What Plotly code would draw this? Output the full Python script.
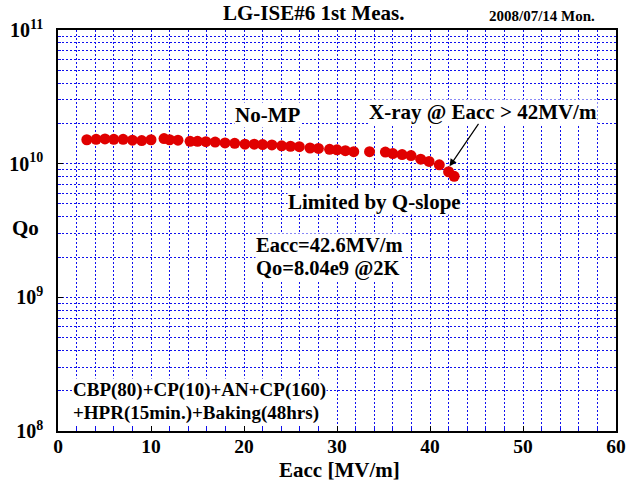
import plotly.graph_objects as go

# Data
eacc = [3.1, 4.1, 5.05, 6.0, 7.0, 8.0, 9.0, 10.0, 11.4, 12.0, 12.9, 14.2, 15.0, 15.9,
        16.9, 17.96, 19.0, 20.1, 21.1, 22.0, 23.0, 24.05, 25.0, 25.95, 27.1, 28.0,
        29.2, 30.0, 30.9, 31.8, 33.5, 35.2, 36.0, 37.0, 37.96, 39.0, 39.9, 41.0,
        42.0, 42.6]
qo = [1.51e10, 1.52e10, 1.53e10, 1.52e10, 1.52e10, 1.50e10, 1.49e10, 1.51e10,
      1.54e10, 1.51e10, 1.50e10, 1.47e10, 1.47e10, 1.46e10, 1.45e10, 1.43e10,
      1.42e10, 1.40e10, 1.40e10, 1.39e10, 1.38e10, 1.36e10, 1.35e10, 1.34e10,
      1.31e10, 1.30e10, 1.28e10, 1.27e10, 1.25e10, 1.23e10, 1.23e10, 1.22e10,
      1.19e10, 1.17e10, 1.15e10, 1.08e10, 1.04e10, 0.98e10, 0.87e10, 0.804e10]

x_range = [0, 60]
x_tickvals = [0, 10, 20, 30, 40, 50, 60]
x_ticktext = ["<b>0</b>", "<b>10</b>", "<b>20</b>", "<b>30</b>", "<b>40</b>", "<b>50</b>", "<b>60</b>"]
y_range_log = [8, 11]
y_tickvals = [1e8, 1e9, 1e10, 1e11]
y_ticktext = ["<b>10<sup>8</sup></b>", "<b>10<sup>9</sup></b>",
              "<b>10<sup>10</sup></b>", "<b>10<sup>11</sup></b>"]

FONT = "Liberation Serif"
GRID = "#1010ee"
DASH = "2px,2px"

fig = go.Figure()
fig.add_trace(go.Scatter(
    x=eacc, y=qo, mode="markers",
    marker=dict(color="#e00000", size=11, line=dict(width=0)),
    showlegend=False,
))

fig.update_layout(
    width=634, height=485,
    margin=dict(l=58, r=18, t=30, b=54),
    paper_bgcolor="white", plot_bgcolor="white",
    font=dict(family=FONT, color="black", size=20),
)

fig.update_xaxes(
    range=x_range, tickmode="array", tickvals=x_tickvals, ticktext=x_ticktext,
    automargin=False, ticklabelstandoff=-3,
    showline=True, linecolor="black", linewidth=1.5, mirror=True,
    ticks="inside", ticklen=5, tickcolor="black",
    showgrid=True, gridcolor=GRID, griddash=DASH, gridwidth=1,
    tickfont=dict(family=FONT, size=19.5, color="black"),
    minor=dict(dtick=2, tick0=0, showgrid=True, gridcolor=GRID, griddash=DASH,
               gridwidth=1, ticks="inside", ticklen=3, tickcolor=GRID),
    zeroline=False,
)
fig.update_yaxes(
    type="log", range=y_range_log, tickmode="array", tickvals=y_tickvals,
    ticktext=y_ticktext, automargin=False, ticklabelstandoff=9,
    showline=True, linecolor="black", linewidth=1.5, mirror=True,
    ticks="inside", ticklen=5, tickcolor="black",
    showgrid=True, gridcolor=GRID, griddash=DASH, gridwidth=1,
    tickfont=dict(family=FONT, size=20, color="black"),
    minor=dict(dtick="D1", showgrid=True, gridcolor=GRID, griddash=DASH,
               gridwidth=1, ticks="inside", ticklen=3, tickcolor=GRID),
    zeroline=False,
)

def ann(text, x, y, size=20, xanchor="center", yanchor="middle", bg="white"):
    fig.add_annotation(text="<b>" + text + "</b>", x=x, y=y, xref="paper", yref="paper",
                       showarrow=False, xanchor=xanchor, yanchor=yanchor,
                       font=dict(family=FONT, size=size, color="black"),
                       bgcolor=bg, borderpad=0)

ann("LG-ISE#6 1st Meas.", 0.457, 1.0748, size=21, yanchor="top", bg=None)
ann("2008/07/14 Mon.", 0.867, 1.035, size=15, bg=None)
ann("No-MP", 0.376, 0.788, size=21)
ann("X-ray @ Eacc > 42MV/m", 0.762, 0.796, size=21)
ann("Limited by Q-slope", 0.568, 0.571, size=21)
ann("Eacc=42.6MV/m", 0.353, 0.464, size=20.5, xanchor="left")
ann("Qo=8.04e9 @2K", 0.353, 0.406, size=20.5, xanchor="left")
ann("CBP(80)+CP(10)+AN+CP(160)", 0.0245, 0.102, size=19, xanchor="left")
ann("+HPR(15min.)+Baking(48hrs)", 0.0245, 0.045, size=19, xanchor="left")
ann("Qo", -0.059, 0.506, size=21, bg=None)
ann("Eacc [MV/m]", 0.505, -0.097, size=21, bg=None)

# arrow from X-ray label to the last points
fig.add_annotation(x=42.1, y=9.98, xref="x", yref="y", text="",
                   showarrow=True, arrowhead=2, arrowsize=1.2, arrowwidth=1.2,
                   arrowcolor="black", ax=30, ay=-44, axref="pixel", ayref="pixel")

fig.write_html("out.html", config={"displayModeBar": False},
               post_script="document.body.style.margin='0px';")
